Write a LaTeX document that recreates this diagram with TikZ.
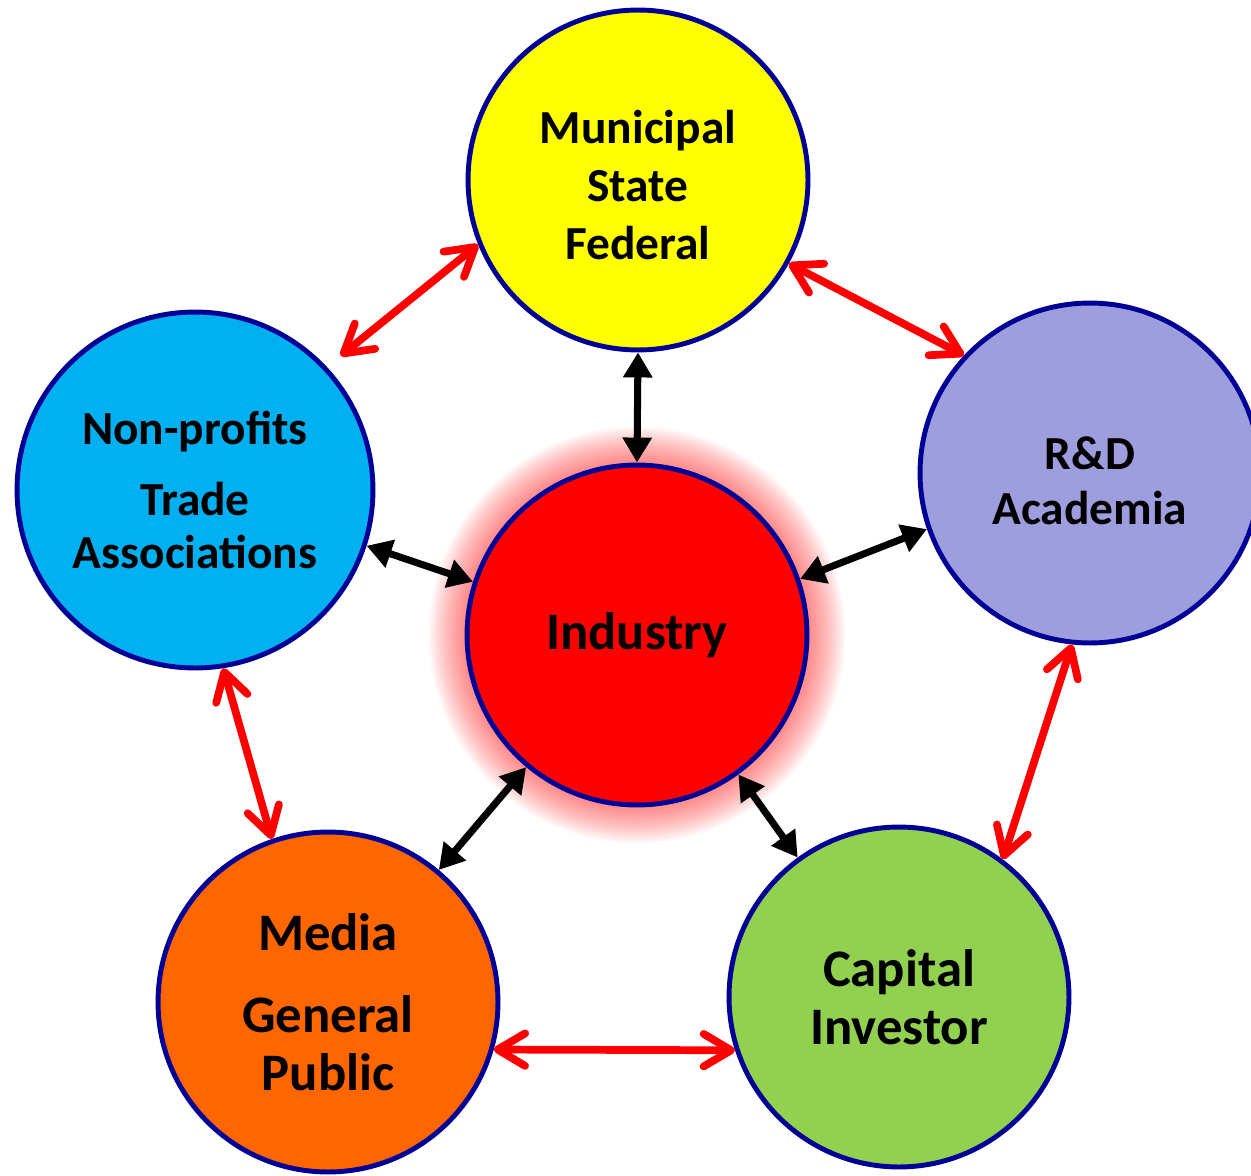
\documentclass[tikz,border=0pt]{standalone}
\usepackage{fontspec}
\setmainfont{Carlito}
\usetikzlibrary{arrows.meta}

\definecolor{rim}{RGB}{0,0,150}
\definecolor{govfill}{RGB}{255,255,0}
\definecolor{rdfill}{RGB}{158,158,222}
\definecolor{npofill}{RGB}{0,176,240}
\definecolor{indfill}{RGB}{255,0,0}
\definecolor{mediafill}{RGB}{255,102,0}
\definecolor{capfill}{RGB}{146,208,80}

\begin{document}
\begin{tikzpicture}[x=0.02cm, y=-0.02cm,
    party/.style={circle, draw=rim, line width=2.8pt, minimum size=6.8cm,
      align=center, font=\bfseries\fontsize{27}{33}\selectfont},
    link/.style={{Straight Barb[length=0.55cm,width=0.65cm,round]}-{Straight Barb[length=0.55cm,width=0.65cm,round]},
      red, line width=4.4pt},
    core/.style={{Triangle[length=0.5cm,width=0.56cm]}-{Triangle[length=0.5cm,width=0.56cm]},
      black, line width=4pt}]
    \useasboundingbox (0,0) rectangle (1251,1176);

    % Glow around the central circle
    \foreach \r in {1,...,16}
      \fill[red, opacity=0.035] (637,635) circle ({(173+\r*2.2)*0.02cm});

    % Circles
    \node[party, fill=indfill, font=\bfseries\fontsize{30}{36}\selectfont] (ind) at (637,635) {Industry};
    \node[party, fill=govfill, label={[align=center, font=\bfseries\fontsize{27}{33}\selectfont, yshift=-0.1cm]center:Municipal\\State\\Federal}] (gov) at (638,180) {};
    \node[party, fill=rdfill, label={[align=center, font=\bfseries\fontsize{27}{31}\selectfont, yshift=-0.16cm]center:R\&D\\Academia}] (rd) at (1090,473) {};
    \node[party, fill=npofill, minimum size=7.12cm, font=\bfseries\fontsize{27}{30}\selectfont] (npo) at (195,490) {Non-profits\\[0.37cm]Trade\\Associations};
    \node[party, fill=mediafill, font=\bfseries\fontsize{30}{33}\selectfont] (media) at (328,1002) {Media\\[0.48cm]General\\Public};
    \node[party, fill=capfill, font=\bfseries\fontsize{30}{33}\selectfont] (cap) at (899,997) {Capital\\Investor};

    % Red links between the outer circles
    \draw[link, shorten >=10pt] (gov.202) -- (npo.43);
    \draw[link] (gov.331) -- (rd.137);
    \draw[link] (npo.279) -- (media.109);
    \draw[link] (rd.264) -- (cap.53);
    \draw[link] (media.344) -- (cap.198);

    % Black links to the central circle
    \draw[core] (gov.270) -- (ind.90);
    \draw[core] (npo.342) -- (ind.162);
    \draw[core] (rd.199) -- (ind.19);
    \draw[core] (ind.230) -- (media.50);
    \draw[core] (ind.306) -- (cap.126);
\end{tikzpicture}
\end{document}
